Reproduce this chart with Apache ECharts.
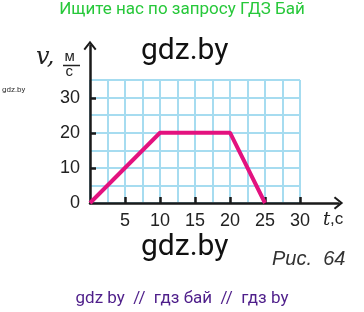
<!DOCTYPE html>
<html><head><meta charset="utf-8">
<script src="https://cdn.jsdelivr.net/npm/echarts@6/dist/echarts.min.js"></script>
<style>html,body{margin:0;padding:0;background:#fff}#c{width:364px;height:312px}</style>
</head><body><div id="c"></div>
<script>
const times = [0, 10, 20, 25];
const speeds = [0, 20, 20, 0];
const xTickLabels = [5, 10, 15, 20, 25, 30];
const yTickLabels = [0, 10, 20, 30];
const yTicks = [10, 20, 30];

const chart = echarts.init(document.getElementById('c'), null, {renderer: 'canvas'});
const chevron = 'path://M50,0 L100,62 L88,72 L50,24 L12,72 L0,62 Z';
const gridColor = '#a6dcf0';
const axisColor = '#1a1a1a';
chart.setOption({
  animation: false,
  grid: [
    {left: 90, top: 80, right: 64, bottom: 109},
    {left: 90, top: 45.5, right: 25.5, bottom: 109}
  ],
  xAxis: [
    {gridIndex: 0, type: 'value', min: 0, max: 30, interval: 2.5,
     axisLine: {show: false}, axisTick: {show: false}, axisLabel: {show: false},
     splitLine: {show: true, lineStyle: {color: gridColor, width: 2}}},
    {gridIndex: 1, type: 'value', min: 0, max: 35.5, interval: 5,
     splitLine: {show: false},
     axisLine: {show: true, symbol: ['none', chevron], symbolSize: [13, 10],
       lineStyle: {color: axisColor, width: 2.5}},
     axisTick: {show: true, inside: true, length: 6, customValues: xTickLabels,
       lineStyle: {color: axisColor, width: 2.5}},
     axisLabel: {show: true, customValues: xTickLabels, margin: 9,
       fontFamily: 'Liberation Sans', fontSize: 18, color: '#222'}}
  ],
  yAxis: [
    {gridIndex: 0, type: 'value', min: 0, max: 35, interval: 5,
     axisLine: {show: false}, axisTick: {show: false}, axisLabel: {show: false},
     splitLine: {show: true, lineStyle: {color: gridColor, width: 2}}},
    {gridIndex: 1, type: 'value', min: 0, max: 45, interval: 5,
     splitLine: {show: false},
     axisLine: {show: true, symbol: ['none', chevron], symbolSize: [13, 10],
       lineStyle: {color: axisColor, width: 2.5}},
     axisTick: {show: true, inside: true, length: 6, customValues: yTicks,
       lineStyle: {color: axisColor, width: 2.5}},
     axisLabel: {show: true, customValues: yTickLabels, margin: 10,
       fontFamily: 'Liberation Sans', fontSize: 18, color: '#222'}}
  ],
  series: [{
    type: 'line', xAxisIndex: 0, yAxisIndex: 0,
    data: times.map((t, i) => [t, speeds[i]]),
    symbol: 'none', clip: false,
    lineStyle: {color: '#e3127f', width: 4}
  }],
  graphic: [
    {type: 'text', left: 'center', top: 1, style: {text: 'Ищите нас по запросу ГДЗ Бай',
      fill: '#27c83a', font: '17px Roboto'}},
    {type: 'text', x: 141, y: 36, style: {text: 'gdz.by', fill: '#111', font: '30px Roboto'}},
    {type: 'text', x: 141, y: 232, style: {text: 'gdz.by', fill: '#111', font: '30px Roboto'}},
    {type: 'text', x: 2, y: 86, style: {text: 'gdz.by', fill: '#333', font: '8px Roboto'}},
    {type: 'text', x: 36, y: 46, style: {text: 'v,', fill: '#222', font: 'italic 24px "DejaVu Serif"'}},
    {type: 'text', x: 64.5, y: 49, style: {text: 'м', fill: '#222', font: '15px "Liberation Sans"'}},
    {type: 'line', shape: {x1: 63, y1: 65.5, x2: 80, y2: 65.5}, style: {stroke: '#222', lineWidth: 1.5}},
    {type: 'text', x: 65.5, y: 64, style: {text: 'с', fill: '#222', font: '15px "Liberation Sans"'}},
    {type: 'text', x: 323, y: 211, style: {text: 't', fill: '#222', font: 'italic 18px "DejaVu Serif"'}},
    {type: 'text', x: 330, y: 211, style: {text: ',с', fill: '#222', font: '17px "Liberation Sans"'}},
    {type: 'text', x: 272, y: 249, style: {text: 'Рис.  64', fill: '#333', font: 'italic 20px "Liberation Sans"'}},
    {type: 'text', left: 'center', top: 290, style: {text: 'gdz by  //  гдз бай  //  гдз by',
      fill: '#4e1e8a', font: '17px Roboto'}}
  ]
});
</script></body></html>
